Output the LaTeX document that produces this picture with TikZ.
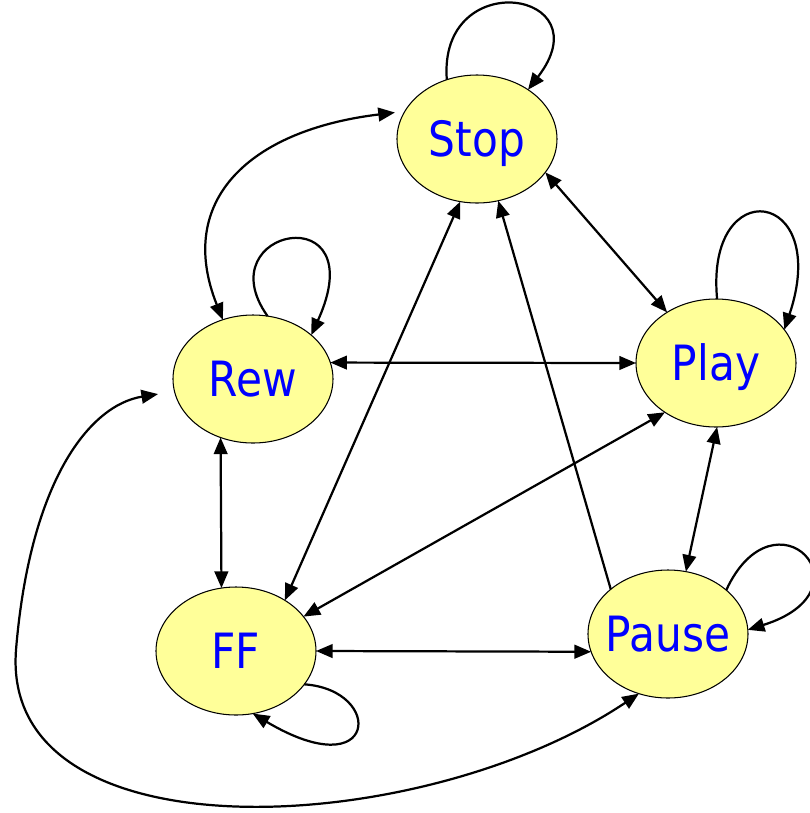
\documentclass[tikz,border=0pt]{standalone}
\usepackage{fontspec}
\setmainfont{DejaVu Sans}[FakeStretch=0.87]
\usetikzlibrary{arrows.meta,shapes.geometric}
\definecolor{statefill}{RGB}{255,255,153}
\tikzset{
  state/.style={ellipse, draw, line width=0.9pt, fill=statefill, outer sep=0pt,
    minimum width=48mm, minimum height=38.4mm, inner sep=-4mm,
    text height=30pt, text depth=0pt, text=blue, font=\fontsize{41.5}{48}\selectfont},
  trans/.style={line width=1.9pt},
}
\begin{document}
\begin{tikzpicture}[>={Triangle[length=5mm,width=4.1mm]}, x=0.3mm, y=0.3mm]
  \useasboundingbox (0,0) rectangle (810,-813);
  % States
  \foreach \name/\x/\y/\lbl in {stop/477/139/Stop, rew/253/379/Rew, play/716/363/Play, ff/236/651/FF, pause/668/634/Pause} {
    \node[state] (\name) at (\x,-\y) {\lbl};
  }
  % Two-way transitions (straight)
  \foreach \a/\b in {stop.-26/play.134, stop.-105/ff.46, rew.12/play.180, rew.-119/ff.103, play.-136/ff.27, play.-89/pause.74, ff.0/pause.-167} {
    \draw[<->, trans] (\a) -- (\b);
  }
  \draw[->, trans] (pause.142) -- (stop.-71);

  % Two-way transitions (curved)
  \draw[<->, trans, shorten >=3mm] (rew.117) .. controls (175,-200) and (250,-130) .. (stop.159);
  \draw[<->, trans, shorten >=5mm] (pause.-116) .. controls (420,-840) and (0,-860) .. (16,-650)
    .. controls (30,-480) and (90,-405) .. (rew.-171);

  % Self-loops
  \draw[->, trans] (stop.117) .. controls (438,35) and (605,10) .. (stop.44);
  \draw[->, trans] (rew.77) .. controls (205,-228) and (375,-195) .. (rew.37);
  \draw[->, trans] (play.89) .. controls (705,-172) and (832,-188) .. (play.26);
  \draw[->, trans] (pause.37) .. controls (775,-485) and (875,-590) .. (pause.3);
  \draw[->, trans] (ff.-26) .. controls (385,-690) and (378,-788) .. (ff.-75);
\end{tikzpicture}
\end{document}
